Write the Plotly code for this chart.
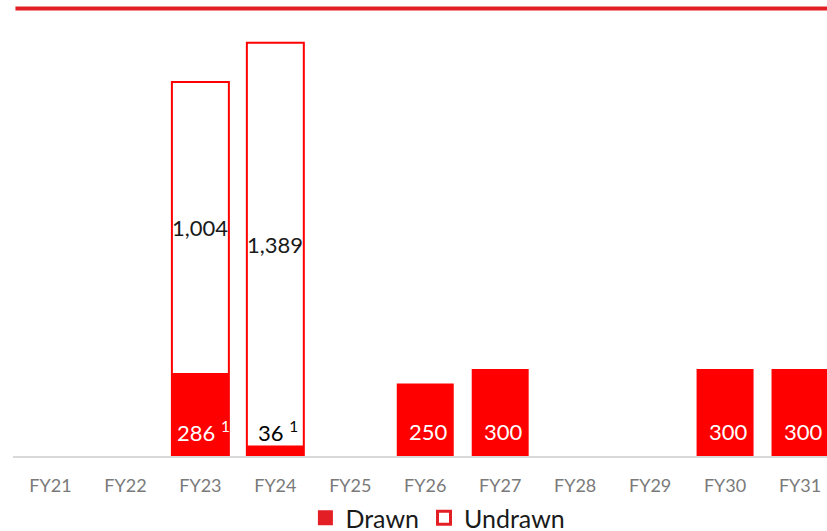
import plotly.graph_objects as go

categories = ["FY21", "FY22", "FY23", "FY24", "FY25", "FY26", "FY27", "FY28", "FY29", "FY30", "FY31"]
drawn = [None, None, 286, 36, None, 250, 300, None, None, 300, 300]
undrawn = [None, None, 1004, 1389, None, None, None, None, None, None, None]
drawn_labels = [None, None, "286 <sup>1</sup>", "36 <sup>1</sup>", None, "250", "300", None, None, "300", "300"]
drawn_label_colors = [None, None, "white", "black", None, "white", "white", None, None, "white", "white"]
undrawn_labels = [None, None, "1,004", "1,389", None, None, None, None, None, None, None]

RED = "#FF0000"
LEG_RED = "#E31E24"
FONT = "Lato"

totals = [(d or 0) + u if u is not None else None for d, u in zip(drawn, undrawn)]

fig = go.Figure()
# Undrawn outline spans the whole facility (drawn + undrawn), drawn bar overlays the bottom
fig.add_trace(go.Bar(
    x=categories, y=totals, name="Undrawn", width=0.76, showlegend=False,
    marker=dict(color="white", line=dict(color=RED, width=2)),
))
fig.add_trace(go.Bar(
    x=categories, y=drawn, name="Drawn", width=0.76, showlegend=False,
    marker=dict(color=RED, line=dict(width=0)),
))
# legend entries
fig.add_trace(go.Scatter(
    x=[None], y=[None], mode="markers", name="Drawn",
    marker=dict(symbol="square", size=15, color=LEG_RED, line=dict(width=0)),
))
fig.add_trace(go.Scatter(
    x=[None], y=[None], mode="markers", name="Undrawn",
    marker=dict(symbol="square-open", size=13, color=LEG_RED, line=dict(width=3, color=LEG_RED)),
))

annotations = []
for c, lab, col in zip(categories, drawn_labels, drawn_label_colors):
    if lab:
        annotations.append(dict(x=c, y=83, text=lab, showarrow=False, xshift=3,
                                font=dict(size=22, color=col, family=FONT),
                                xanchor="center", yanchor="middle"))
for c, d, u, lab in zip(categories, drawn, undrawn, undrawn_labels):
    if lab:
        annotations.append(dict(x=c, y=d + u / 2, text=lab, showarrow=False,
                                font=dict(size=22, color="#1a1a1a", family=FONT),
                                xanchor="center", yanchor="middle"))

PLOT_H = 445
fig.update_layout(
    width=827, height=531,
    margin=dict(l=12.5, r=0, t=11, b=75, autoexpand=False),
    paper_bgcolor="white", plot_bgcolor="white",
    barmode="overlay",
    showlegend=True,
    hovermode=False,
    legend=dict(orientation="h", x=0.522, xanchor="center", y=-62 / PLOT_H, yanchor="middle",
                font=dict(size=25, color="#1a1a1a", family=FONT),
                itemwidth=30, traceorder="normal", tracegroupgap=0),
    xaxis=dict(type="category", categoryorder="array", categoryarray=categories,
               range=[-0.5, 10.36], showgrid=False, zeroline=False,
               showline=True, linecolor="#D9D9D9", linewidth=2,
               ticks="", ticklabelstandoff=12,
               tickfont=dict(size=18, color="#7a7a7a", family=FONT)),
    yaxis=dict(range=[0, PLOT_H / 0.29], visible=False, showgrid=False, zeroline=False),
    annotations=annotations,
    shapes=[dict(type="line", xref="paper", yref="paper", x0=0.003, x1=1,
                 y0=1 + 2.5 / PLOT_H, y1=1 + 2.5 / PLOT_H,
                 line=dict(color=LEG_RED, width=4))],
)

fig.write_html(
    "out.html",
    config={"displayModeBar": False},
    post_script="document.body.style.margin='0';document.body.style.overflow='hidden';",
)
